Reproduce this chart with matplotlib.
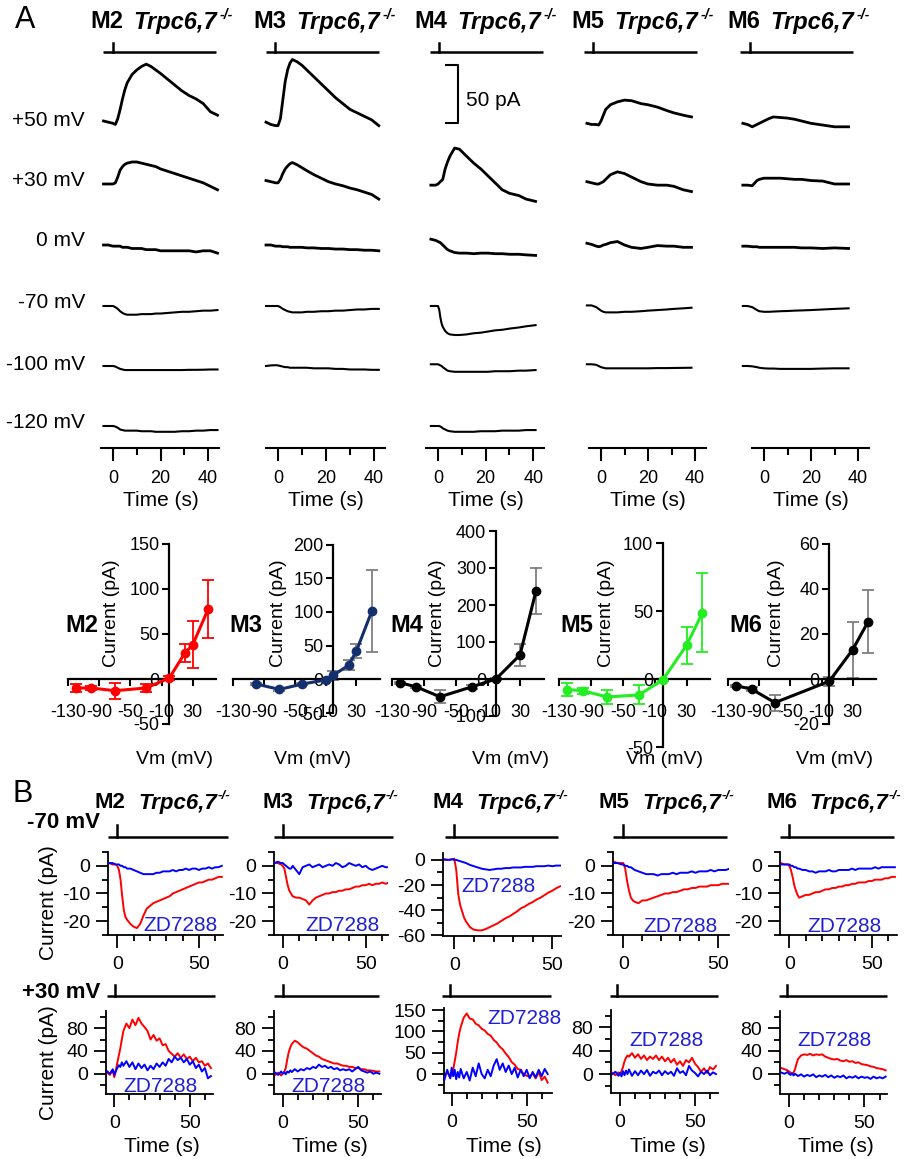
import matplotlib.pyplot as plt
from matplotlib.ticker import MultipleLocator, FixedLocator

plt.rcParams['font.family'] = ['Liberation Sans', 'DejaVu Sans']
plt.rcParams['axes.unicode_minus'] = False

W, H = 916, 1159
mice = ['M2', 'M3', 'M4', 'M5', 'M6']

# ---------------- panel A: whole-cell traces (pA, relative to row baseline) ----------------
rows_A = ['+50 mV', '+30 mV', '0 mV', '-70 mV', '-100 mV', '-120 mV']

tA_M2 = [-4, -2, 0, 1, 2, 3, 4, 5, 6, 8, 10, 12, 14, 16, 18, 20, 23, 26, 29, 32, 35, 38, 41, 44]
A_M2 = [
    [0, -1, -2, -3, 2, 10, 19, 27, 33, 40, 44, 47, 49, 47, 44, 41, 36, 31, 26, 22, 19, 15, 8, 5],
    [0, 0, 0, 1, 6, 12, 15, 17, 18, 19, 19, 18, 17, 16, 15, 13, 11, 9, 7, 5, 3, 1, -2, -5],
    [0, 0, -1, -1, -1, -1, -2, -2, -2, -3, -3, -3, -4, -4, -4, -5, -5, -5, -5, -5, -6, -5, -5, -7],
    [0, 0, 0, -1, -2.5, -4.5, -6, -7, -7.5, -7.5, -7.5, -7, -7, -7, -6.5, -6.5, -6, -5.5, -5, -5, -4.5, -4, -4, -3.5],
    [0, 0, 0, -0.5, -1.5, -2.5, -3, -3.5, -3.5, -3.5, -3.5, -3.5, -3.5, -3.5, -3.5, -3.5, -3.5, -3.5, -3.5, -3.3, -3.3, -3.2, -3, -3],
    [0, 0, 0, -0.5, -1.5, -3, -3.5, -4, -4, -4, -4, -4.5, -4.5, -4.5, -5, -5, -5, -5, -4.5, -4.5, -4, -4, -3.5, -3.5],
]

tA_M3 = [-5, -3, -1, 0, 1, 2, 3, 4, 5, 6, 8, 10, 12, 15, 18, 21, 24, 27, 30, 33, 36, 39, 42]
A_M3 = [
    [-1, -3, -4, -4, 2, 18, 34, 44, 50, 53, 51, 48, 44, 38, 32, 26, 20, 15, 10, 7, 4, 1, -4],
    [3, 2, 1, 1, 4, 9, 13, 15.5, 17.5, 18.5, 16.5, 14, 11.5, 8, 5, 2, 0, -1.5, -3.5, -5, -7, -9, -13],
    [0, 0, -1, -1, -1, -1.5, -1.5, -1.5, -2, -2, -2, -2, -2.5, -2.5, -3, -3, -3.5, -3.5, -4, -4, -4.5, -4.5, -5],
    [0, 0, 0, 0, -1, -2.5, -3.5, -4.5, -5, -5.5, -5.5, -5.5, -5, -5, -4.5, -4.5, -4, -4, -3.5, -3, -3, -2.5, -2.5],
    [0, 0.5, 0.7, 0.5, 0, -0.5, -1, -1, -1.5, -1.5, -1.5, -1.5, -1.5, -2, -2, -2, -2.5, -2.5, -3, -3, -3, -3.3, -3.3],
    None,
]

tA_M4 = [-3, -1, 0, 0.5, 1, 1.5, 2, 3, 4, 5, 7, 9, 12, 15, 18, 21, 24, 27, 30, 34, 37, 41]
A_M4 = [
    None,
    [-1, -1, 0, 1, 2, 3, 4, 13, 19, 24, 31, 30, 24, 18, 13, 7, 1, -5, -8, -10, -13, -15],
    [5, 4, 3, 2.5, 2, 1, 0, -2, -4, -5, -6.5, -7, -7, -7.5, -7, -7, -7.5, -7.5, -8, -8, -8.5, -9],
    [0, 0, 0, -3, -10, -15, -18, -21.5, -23.5, -24.5, -25, -25, -24.5, -23.5, -23, -22, -21, -20.5, -19.5, -18.5, -17.5, -16.5],
    [1.5, 1.5, 1.5, 1, 0.5, 0, -1, -2.5, -4, -4.5, -5, -5, -5, -5, -5, -5, -4.5, -4.5, -4.5, -4, -4, -3.5],
    [0, 0, 0, 0, -0.5, -1, -2, -3, -4, -4.5, -5, -5, -5, -5, -4.5, -4.5, -4.5, -4, -4, -4, -3.5, -3.5],
]

tA_M5 = [-6, -4, -2, -1, 0, 1, 2, 4, 7, 10, 13, 17, 20, 24, 28, 31, 35, 38.5]
A_M5 = [
    [-2, -3, -3, -3.5, 0, 5, 10, 14, 16.5, 18, 17.5, 15, 14, 12, 9, 7, 5, 3.5],
    [2, 1, 0, 0, 1, 2, 4, 8, 10.5, 9, 6, 2, 0, -1, -1, -2, -5, -6.5],
    [1.5, 0.5, -1, -1.5, -1, 0, 0.5, 2, 3, 0, -2, -3, -2, -0.5, -1, -1, -2, -2],
    [0.5, 0.5, -1, -2.5, -4, -5, -5.5, -5.5, -5.5, -5, -5, -4.5, -4, -3.5, -3, -2.5, -2, -1.5],
    [1.5, 1.5, 1, 0, -1, -1.5, -2, -2, -2, -2, -2, -2, -2, -1.8, -1.8, -1.7, -1.6, -1.5],
    None,
]

tA_M6 = [-9, -7, -5, -3, -2, 0, 2, 4, 7, 10, 13, 16, 20, 25, 30, 36]
A_M6 = [
    [-2, -3, -5, -3, -2, 0, 2, 3.5, 3, 2.5, 1.5, 0, -2, -3.5, -5, -5],
    [-1, -1, -1.5, 3, 4, 5, 5, 5, 5, 4.5, 4, 4, 3, 2.5, 0, 0],
    [-1, -1, -1.5, -1.5, -2, -2, -2, -2, -2, -2, -2, -2.5, -2.5, -3, -2.5, -3],
    [0, 0, -1, -3.5, -4.5, -5, -5, -4.8, -4.5, -4.3, -4, -3.8, -3.5, -3, -2.5, -2],
    [0, 0, -0.3, -1, -1.5, -2, -2.2, -2.2, -2.5, -2.5, -2.5, -2.5, -2.5, -2.2, -2, -2],
    None,
]

# ---------------- panel A: I-V relations (mean +/- SEM) ----------------
iv_M2_v = [-120, -100, -70, -30, 0, 20, 30, 50]
iv_M2_i = [-10, -10, -13, -10, 1, 29, 38, 78]
iv_M2_e = [4, 2, 9, 4, 2, 10, 26, 32]
iv_M3_v = [-100, -70, -40, -10, 0, 20, 30, 50]
iv_M3_i = [-7, -15, -7, -1, 6, 21, 42, 101]
iv_M3_e = [2, 2, 2, 2, 7, 7, 11, 61]
iv_M4_v = [-120, -100, -70, -30, 0, 30, 50]
iv_M4_i = [-10, -21, -48, -21, 0, 65, 238]
iv_M4_e = [3, 3, 17, 5, 3, 30, 63]
iv_M5_v = [-120, -100, -70, -30, 0, 30, 50]
iv_M5_i = [-7.5, -8.5, -13, -11.5, -0.5, 25, 49]
iv_M5_e = [4.5, 2, 5, 7, 1, 13.5, 29]
iv_M6_v = [-120, -100, -70, 0, 30, 50]
iv_M6_i = [-3, -4.5, -10.5, -1, 13, 25.5]
iv_M6_e = [0.5, 1, 3.5, 2, 12.5, 14]

iv_ylims = [(-50, 150), (-50, 200), (-100, 400), (-50, 100), (-20, 60)]
iv_yticks = [[-50, 0, 50, 100, 150], [-50, 0, 50, 100, 150, 200],
             [-100, 0, 100, 200, 300, 400], [-50, 0, 50, 100], [-20, 0, 20, 40, 60]]
iv_xticks = [-130, -90, -50, -10, 30]

# ---------------- panel B: control (red) vs ZD7288 (blue), pA ----------------
tB = [-5, -3, -1, 0, 1, 2, 3, 4, 5, 6, 8, 10, 12, 14, 16, 18, 20, 22, 24, 26, 28,
      30, 32, 34, 36, 38, 40, 42, 44, 46, 48, 50, 52, 54, 56, 58, 60, 62, 64]

B_M2 = [  # -70 ctrl, -70 ZD, +30 ctrl, +30 ZD
    [1, 0.5, 0.5, 0, -1.5, -5, -11, -16, -18.5, -19.5, -21, -22, -22.5, -21, -18, -15.5, -14.5, -13.5, -13, -12.5,
     -12, -11.5, -11, -10, -9.5, -9, -8.5, -8, -7.5, -7, -6.5, -6, -6, -5.5, -5, -5, -4.5, -4, -4],
    [1, 1, 0.5, 0.5, 0.5, 0, 0, -0.5, -0.5, -1, -1, -1.5, -2, -2.5, -3, -3, -3, -3, -2.5, -2.5,
     -2, -2, -2, -1.5, -2, -1.5, -1.5, -1, -1.5, -1, -1, -1.5, -1, -1, -0.5, -1, -0.5, -0.5, 0],
    [3, -2, 5, -6, 5, 20, 32, 45, 60, 75, 88, 80, 95, 85, 98, 88, 82, 75, 60, 68,
     58, 62, 50, 52, 40, 35, 30, 36, 28, 34, 26, 30, 22, 28, 20, 22, 14, 18, 10],
    [5, 0, 8, -2, 5, 10, 15, 12, 20, 14, 22, 12, 20, 8, 18, 10, 16, 6, 14, 8,
     18, 12, 20, 14, 26, 20, 30, 24, 28, 20, 26, 16, 22, 10, 16, 4, 10, -8, -4],
]
B_M3 = [
    [1, 1, 0.5, 0, -1, -4, -7, -9, -10, -11, -11.5, -11.5, -12, -12.5, -14, -12.5, -11.5, -11, -10.5, -10,
     -10, -9.5, -9.5, -9, -9, -8.5, -8.5, -8, -7.5, -7.5, -7, -7, -6.5, -7, -6.5, -6.5, -6, -6.5, -6],
    [1, 1.5, 1, 1, 0.5, 0, -0.5, -1, -1, 0, -1.5, -3, -0.5, 0, 0.5, -0.5, 0, 0.5, -0.5, 0,
     0.5, 0, 1, 0.5, -0.5, 0, 1, 0.5, 0, 0.5, -0.5, 0, -1, -1.5, -1, -0.5, 0, -0.5, -0.5],
    [-2, 2, -3, 0, 3, 10, 25, 38, 46, 52, 58, 55, 50, 46, 44, 40, 36, 32, 30, 26,
     24, 22, 20, 18, 18, 16, 14, 14, 12, 12, 10, 10, 8, 8, 6, 6, 5, 4, 4],
    [2, -2, 4, 0, 3, -1, 4, 2, 6, 3, 8, 4, 8, 6, 10, 8, 12, 10, 16, 12,
     14, 10, 12, 8, 10, 6, 8, 6, 8, 4, 8, 12, 6, 4, 2, 4, 0, 2, 0],
]
B_M4 = [
    [0, 0, 0.5, 1, -8, -27, -36, -41, -46, -49, -53.5, -55.5, -56, -56, -55, -53.5, -52, -50.5, -48.5, -46.5,
     -45, -43, -41, -38.5, -37, -35, -33.5, -31.5, -30, -28, -26, -24.5, -22.5, -21],
    [0.5, 0, 0.5, 0, 0, -0.5, -1, -1.5, -2, -2.5, -4, -5, -6, -7, -7.5, -8, -7.5, -7, -7, -6.5,
     -6.5, -6, -6, -6, -5.5, -5.5, -5.5, -5, -5, -5, -4.5, -5, -4.5, -4.5],
    [-5, 5, -8, 0, 10, 30, 50, 75, 95, 110, 132, 142, 130, 128, 118, 114, 106, 102, 94, 90,
     80, 74, 64, 58, 48, 40, 28, 22, 12, 10, 0, -4, -6, 2, -10, 5, -14, -6, -20],
    [-15, 10, -10, 15, -5, 10, -12, 5, -8, 12, -10, 5, -15, 15, -5, 25, 0, -10, 10, -5,
     20, 35, 10, 25, 5, 20, 0, 15, -8, 10, -5, 10, -10, 5, -8, 10, -5, 12, 0],
]
B_M5 = [
    [1.5, 1, 1, 1, -1, -5.5, -9, -11.5, -12.5, -13, -13.5, -12.5, -12.5, -12, -11.5, -11, -10.5, -10, -10, -9.5,
     -9.5, -9, -8.5, -8.5, -8, -8, -7.5, -7.5, -7.5, -7, -7, -7, -6.5, -6.5, -6.5],
    [1, 1, 0.5, 0.5, 0, 0, -0.5, -0.5, -1, -1.5, -2, -2.5, -3, -3, -3, -3.5, -3, -3, -3, -2.5,
     -3, -2.5, -2.5, -2.5, -2, -2.5, -2, -2, -2, -1.5, -2, -1.5, -1.5, -1.5, -1],
    [2, -2, 3, 0, 5, 12, 22, 28, 32, 30, 36, 28, 34, 26, 32, 24, 30, 26, 32, 24,
     30, 22, 28, 20, 26, 16, 22, 14, 24, 20, 28, 18, 12, 4, 10, 2, 12, 8, 14],
    [0, 4, -3, 2, -4, 5, -2, 6, 0, 8, -3, 5, -2, 6, 0, 7, -3, 4, 1, 6,
     -2, 5, 0, 4, -3, 10, 2, 5, -2, 14, 6, 2, -4, 4, 0, 6, -2, 3, 0],
]
B_M6 = [
    [1, 0.5, 0.5, 0, -1.5, -4, -7, -9, -10.5, -11.5, -11, -10.5, -10.5, -10, -9.5, -9.5, -9, -8.5, -8.5, -8,
     -8, -7.5, -7.5, -7, -7, -6.5, -6.5, -6, -6, -6, -5.5, -5.5, -5, -5, -5, -4.5, -4.5, -4, -4],
    [0.5, 0.5, 0.5, 0.5, 0, 0, -0.5, -0.5, -1, -1, -1.5, -1.5, -2, -2, -2.5, -2, -2, -2, -1.5, -2,
     -2, -1.5, -1.5, -1.5, -1.5, -1, -1.5, -1, -1, -1, -1, -1, -0.5, -1, -0.5, -0.5, -0.5, -0.5, -0.5],
    [10, 8, 6, 4, 2, 0, 2, 8, 18, 26, 32, 34, 33, 35, 32, 34, 33, 34, 30, 28,
     26, 25, 26, 23, 22, 24, 21, 22, 19, 20, 17, 16, 15, 13, 12, 10, 9, 8, 6],
    [2, 0, 3, 0, -2, 1, -3, 0, -2, -4, -1, -5, -2, -4, -1, -6, -3, -5, -2, -6,
     -3, -7, -4, -6, -3, -8, -5, -7, -4, -8, -5, -7, -6, -9, -5, -8, -6, -8, -5],
]

B_ylims = [[(-25, 5), (-25, 5), (-60.5, 5.5), (-25, 5), (-25, 5)],
           [(-36, 110), (-36, 110), (-45, 154), (-33, 110), (-36, 110)]]
B_ymajor = [[10, 10, 20, 10, 10], [40, 40, 50, 40, 40]]

RED, BLUE, ZD_BLUE = '#ff0000', '#0000ff', '#1f1fd6'

# ---------------- layout (pixels) ----------------
fig = plt.figure(figsize=(W / 100, H / 100), dpi=100)


def px_axes(left, top, width, height):
    return fig.add_axes([left / W, 1 - (top + height) / H, width / W, height / H])


ov = fig.add_axes([0, 0, 1, 1])
ov.set_xlim(0, W)
ov.set_ylim(H, 0)
ov.axis('off')


def stim_bar(x_start, x_end, x_tick, y, y_top):
    ov.plot([x_start, x_end], [y, y], color='k', lw=1.8, solid_capstyle='butt')
    ov.plot([x_tick, x_tick], [y, y_top], color='k', lw=1.8)


def title(x, y, name, size, gap1, gap2):
    ov.text(x, y, name, fontsize=size, fontweight='bold', va='center', ha='left')
    ov.text(x + gap1, y, 'Trpc6,7', fontsize=size, fontweight='bold', fontstyle='italic',
            va='center', ha='left')
    ov.text(x + gap2, y - 7, '-/-', fontsize=size * 0.6, fontweight='bold', fontstyle='italic',
            va='center', ha='left')


# ---- panel A traces ----
colA_x0 = [113, 278, 438, 601, 764]
colA_s = [2.375, 2.4, 2.38, 2.35, 2.35]
rowA_y = [121, 184, 245, 306, 366, 426]
A_PX = 1.16
A_BOTTOM, A_TOP = 448, 40
A_time = [tA_M2, tA_M3, tA_M4, tA_M5, tA_M6]
A_data = [A_M2, A_M3, A_M4, A_M5, A_M6]

for c in range(5):
    s, x0 = colA_s[c], colA_x0[c]
    ax = px_axes(x0 - 5 * s, A_TOP, 49.6 * s, A_BOTTOM - A_TOP)
    ax.set_xlim(-5, 44.6)
    ax.set_ylim(0, (A_BOTTOM - A_TOP) / A_PX)
    for r, trace in enumerate(A_data[c]):
        if trace is None:
            continue
        off = (A_BOTTOM - rowA_y[r]) / A_PX
        ax.plot(A_time[c], [off + v for v in trace], color='k',
                lw=2.0 if r < 3 else 1.5, clip_on=False)
    for sp in ['left', 'right', 'top']:
        ax.spines[sp].set_visible(False)
    ax.spines['bottom'].set_linewidth(1.5)
    ax.set_yticks([])
    ax.set_xticks([0, 20, 40])
    ax.xaxis.set_minor_locator(FixedLocator([10, 30]))
    ax.tick_params(axis='x', which='major', length=9.5, width=1.5, labelsize=13, pad=6)
    ax.tick_params(axis='x', which='minor', length=5, width=1.5)
    ax.patch.set_visible(False)
    ov.text(x0 + 20 * s, 500, 'Time (s)', fontsize=15, ha='center', va='center')
    if c == 2:
        # 50 pA scale bar
        yb = (A_BOTTOM - 123) / A_PX
        xb = (458 - x0) / s
        xl = (446 - x0) / s
        ax.plot([xl, xb, xb, xl], [yb + 50, yb + 50, yb, yb], color='k', lw=1.5, clip_on=False)

ov.text(466, 100, '50 pA', fontsize=15, ha='left', va='center')
for r, lab in enumerate(rows_A):
    ov.text(85, [120, 181, 240, 302, 364, 423][r], lab, fontsize=15, ha='right', va='center')

ov.text(25, 20, 'A', fontsize=22, ha='center', va='center')
for c, x in enumerate([90, 253, 414, 571, 727]):
    title(x, 22, mice[c], 17, 43, 130)
for a, b, t in zip([103, 266, 430, 584, 740], [216, 379, 543, 697, 853], [113, 275, 439, 593, 750]):
    stim_bar(a, b, t, 51.7, 43)

# ---- I-V plots ----
iv_v = [iv_M2_v, iv_M3_v, iv_M4_v, iv_M5_v, iv_M6_v]
iv_i = [iv_M2_i, iv_M3_i, iv_M4_i, iv_M5_i, iv_M6_i]
iv_e = [iv_M2_e, iv_M3_e, iv_M4_e, iv_M5_e, iv_M6_e]
iv_line = [RED, '#142f6e', '#000000', '#22ee22', '#000000']
iv_err = [RED, '#7f7f7f', '#7f7f7f', '#22ee22', '#7f7f7f']
iv_origin = [(169.3, 679), (333.3, 679.3), (496, 679), (662.7, 679.3), (829.3, 679)]
iv_xs = [0.78, 0.77, 0.8, 0.795, 0.777]
iv_ys = [0.9, 0.674, 0.37, 1.36, 2.25]
iv_xlim = (-130, 60)

for c in range(5):
    ox, oy = iv_origin[c]
    y0, y1 = iv_ylims[c]
    ax = px_axes(ox + iv_xlim[0] * iv_xs[c], oy - y1 * iv_ys[c],
                 (iv_xlim[1] - iv_xlim[0]) * iv_xs[c], (y1 - y0) * iv_ys[c])
    ax.set_xlim(*iv_xlim)
    ax.set_ylim(y0, y1)
    ax.errorbar(iv_v[c], iv_i[c], yerr=iv_e[c], fmt='none', ecolor=iv_err[c],
                elinewidth=1.3, capsize=4.5, capthick=1.3, clip_on=False, zorder=2)
    ax.plot(iv_v[c], iv_i[c], '-o', color=iv_line[c], lw=2.2, ms=6, clip_on=False, zorder=3)
    ax.spines['left'].set_position(('data', 0))
    ax.spines['bottom'].set_position(('data', 0))
    ax.spines['right'].set_visible(False)
    ax.spines['top'].set_visible(False)
    ax.spines['left'].set_linewidth(1.6)
    ax.spines['bottom'].set_linewidth(1.6)
    ax.set_yticks(iv_yticks[c])
    ax.set_xticks(iv_xticks)
    ax.tick_params(axis='y', length=5, width=1.5, labelsize=13, pad=2)
    ax.tick_params(axis='x', length=5, width=1.5, labelsize=13, pad=13)
    ax.patch.set_visible(False)

for x, t in zip([81.5, 245.5, 406.5, 576.5, 746], mice):
    ov.text(x, 626, t, fontsize=17, fontweight='bold', ha='center', va='center')
for x in [111.7, 278.3, 438, 606.7, 776.7]:
    ov.text(x, 613, 'Current (pA)', fontsize=14, rotation=90, ha='center', va='center')
for x in [174, 312, 510, 664, 835]:
    ov.text(x, 759, 'Vm (mV)', fontsize=14, ha='center', va='center')

# ---- panel B ----
B_data = [B_M2, B_M3, B_M4, B_M5, B_M6]
B_rows = [  # spine x, t0 x, px/s, right x
    dict(spine=[108.3, 274, 443.3, 613.3, 780], t0=[117.3, 282.7, 454.3, 623.3, 789.3],
         s=[1.633, 1.66, 1.96, 1.9, 1.65], right=[223, 388, 560.7, 729.3, 896.7]),
    dict(spine=[106, 274, 444.3, 611, 780], t0=[114.3, 282.7, 451.7, 620, 789],
         s=[1.51, 1.51, 1.5, 1.5, 1.51], right=[213.3, 381, 551.7, 718.3, 886.7]),
]
B_tops = [[852, 852, 853, 852, 852], [1011, 1011, 1008.3, 1010, 1011]]
B_bots = [[935, 935, 936, 935, 935], [1094.3, 1094.3, 1093.3, 1093.3, 1094.3]]

for row in range(2):
    L = B_rows[row]
    for c in range(5):
        top, bot = B_tops[row][c], B_bots[row][c]
        ax = px_axes(L['spine'][c], top, L['right'][c] - L['spine'][c], bot - top)
        ax.set_xlim((L['spine'][c] - L['t0'][c]) / L['s'][c], (L['right'][c] - L['t0'][c]) / L['s'][c])
        ax.set_ylim(*B_ylims[row][c])
        ctrl, zd = B_data[c][2 * row], B_data[c][2 * row + 1]
        ax.plot(tB[:len(ctrl)], ctrl, color=RED, lw=1.4, zorder=2)
        ax.plot(tB[:len(zd)], zd, color=BLUE, lw=1.4, zorder=3)
        for sp in ['right', 'top']:
            ax.spines[sp].set_visible(False)
        ax.spines['left'].set_linewidth(1.3)
        ax.spines['bottom'].set_linewidth(1.3)
        ax.xaxis.set_major_locator(MultipleLocator(50))
        ax.xaxis.set_minor_locator(MultipleLocator(10))
        ax.yaxis.set_major_locator(MultipleLocator(B_ymajor[row][c]))
        ax.yaxis.set_minor_locator(MultipleLocator(B_ymajor[row][c] / 2))
        ax.tick_params(which='major', length=9, width=1.3, labelsize=14, pad=4)
        ax.tick_params(which='minor', length=4.5, width=1.3)
        ax.tick_params(axis='x', which='major', pad=6)
        ax.patch.set_visible(False)

ov.text(23, 794, 'B', fontsize=22, ha='center', va='center')
for c, x in enumerate([95, 263, 433, 599, 766]):
    title(x, 803, mice[c], 16, 43, 123)
ov.text(100, 823, '-70 mV', fontsize=16, fontweight='bold', ha='right', va='center')
ov.text(100, 992, '+30 mV', fontsize=16, fontweight='bold', ha='right', va='center')
for y in [903, 1063]:
    ov.text(49, y, 'Current (pA)', fontsize=15, rotation=90, ha='center', va='center')
for x in [161.7, 330, 504, 667.5, 836]:
    ov.text(x, 1147, 'Time (s)', fontsize=15, ha='center', va='center')
for x, y in [(180, 925.7), (342.5, 925.7), (499, 886), (680.5, 926.7), (844, 926.7),
             (161, 1086), (328.5, 1086), (524, 1018.3), (666, 1040), (835, 1040)]:
    ov.text(x, y, 'ZD7288', fontsize=15, color=ZD_BLUE, ha='center', va='center')

for a, b, t in zip([108, 274, 445, 613.3, 780], [228, 392.7, 558.3, 726.7, 894], [117.3, 283.3, 454.3, 622.7, 789.3]):
    stim_bar(a, b, t, 836.7, 825)
for a, b, t in zip([106.7, 274, 442.3, 610, 779.3], [215, 379, 550.7, 718.3, 887.3], [115, 283.3, 450, 617.3, 786.7]):
    stim_bar(a, b, t, 995.5, 985)

fig.savefig('out.png', dpi=100)
